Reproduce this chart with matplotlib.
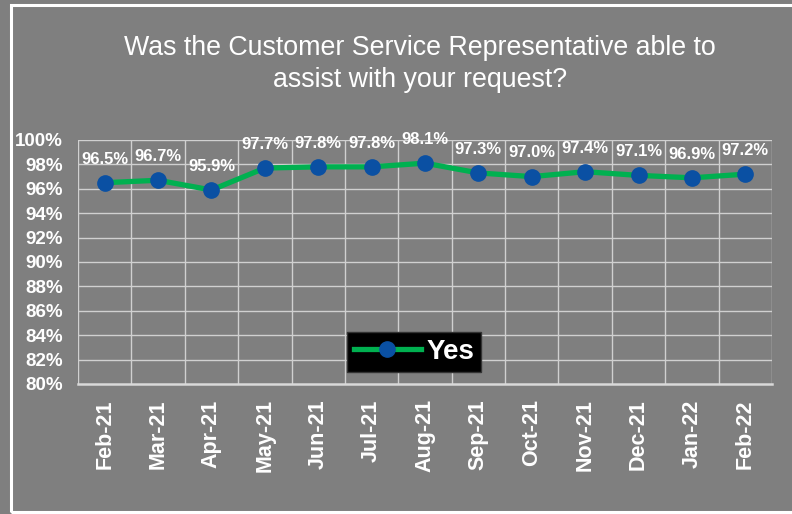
import matplotlib.pyplot as plt
from matplotlib.patches import Rectangle

plt.rcParams['font.family'] = ['Liberation Sans', 'DejaVu Sans']

months = ['Feb-21', 'Mar-21', 'Apr-21', 'May-21', 'Jun-21', 'Jul-21', 'Aug-21',
          'Sep-21', 'Oct-21', 'Nov-21', 'Dec-21', 'Jan-22', 'Feb-22']
yes_pct = [96.5, 96.7, 95.9, 97.7, 97.8, 97.8, 98.1, 97.3, 97.0, 97.4, 97.1, 96.9, 97.2]

bg = '#7f7f7f'
fig = plt.figure(figsize=(7.92, 5.14), dpi=100, facecolor=bg)

# white frame around the chart area
fig.patches.append(Rectangle((11 / 792, 2 / 514), 0.99, 1 - 7 / 514, transform=fig.transFigure,
                             fill=False, edgecolor='white', linewidth=2.2))

ax = fig.add_axes([78 / 792, 1 - 384 / 514, 694 / 792, 244 / 514])
ax.set_facecolor(bg)

x = list(range(len(months)))
ax.plot(x, yes_pct, color='#00b050', linewidth=3.8, marker='o', markersize=11,
        markerfacecolor='#0a50a3', markeredgecolor='#0a50a3', label='Yes', zorder=3)

for xi, v in zip(x, yes_pct):
    ax.annotate(f'{v:.1f}%', (xi, v), xytext=(0, 17), textcoords='offset points',
                ha='center', va='center', color='white', fontsize=12, fontweight='bold')

ax.set_xlim(-0.5, len(months) - 0.5)
ax.set_ylim(80, 100)
ax.set_yticks(range(80, 101, 2))
ax.set_yticklabels([f'{t}%' for t in range(80, 101, 2)])
ax.set_xticks(x)
ax.set_xticklabels(months, rotation=90)

for h in range(82, 101, 2):
    ax.axhline(h, color='#d0d0d0', linewidth=1, zorder=1)
for vx in [i + 0.5 for i in range(-1, len(months))]:
    ax.axvline(vx, color='#d0d0d0', linewidth=1, zorder=1)

for s in ['top', 'right', 'left']:
    ax.spines[s].set_visible(False)
ax.spines['bottom'].set_color('#d9d9d9')
ax.spines['bottom'].set_linewidth(1.8)

ax.tick_params(axis='both', length=0, colors='white')
ax.tick_params(axis='y', labelsize=13.5, pad=11)
ax.tick_params(axis='x', labelsize=15.5, pad=11)
for lab in ax.get_yticklabels() + ax.get_xticklabels():
    lab.set_fontweight('bold')

leg = ax.legend(loc='center', bbox_to_anchor=(414 / 792, 1 - 352 / 514),
                bbox_transform=fig.transFigure, frameon=True, fancybox=False,
                facecolor='black', edgecolor='#333333', framealpha=1,
                prop={'size': 20, 'weight': 'bold'}, handlelength=2.4,
                handletextpad=0.2, borderpad=0.25)
for t in leg.get_texts():
    t.set_color('white')

fig.text(420 / 792, 1 - 64 / 514,
         'Was the Customer Service Representative able to\nassist with your request?',
         ha='center', va='center', color='white', fontsize=19.3, linespacing=1.3)

fig.savefig('out.png', dpi=100, facecolor=bg)
